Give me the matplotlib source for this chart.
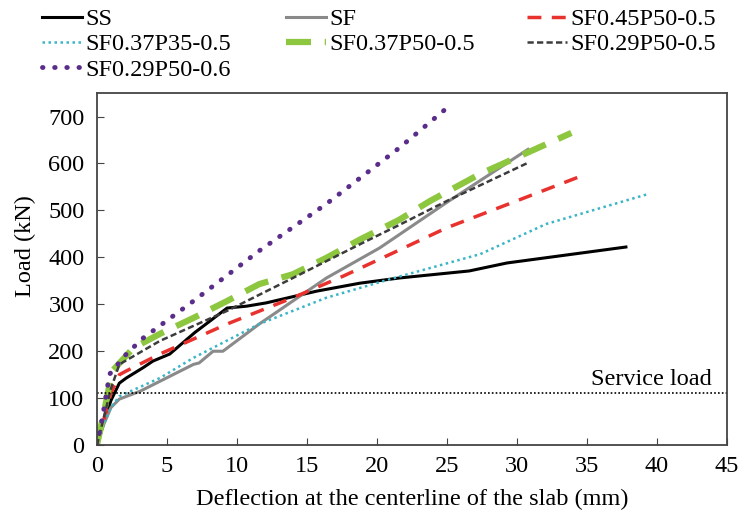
import numpy as np
import matplotlib
matplotlib.use('Agg')
import matplotlib.pyplot as plt

plt.rcParams['font.family'] = ['Liberation Serif', 'DejaVu Serif']

# load-deflection curves (mm, kN)
ss_x = [0, 0.5, 1.0, 1.6, 2.1, 3.3, 4.0, 5.2, 7.0, 9.3, 10.7, 12.1, 15.7, 18.8, 21.6, 26.6, 29.3, 37.8]
ss_y = [0, 50, 95, 132, 143, 165, 179, 194, 240, 292, 296, 303, 328, 345, 356, 371, 388, 422]

sf_x = [0, 0.5, 1.0, 1.6, 3.1, 4.5, 6.9, 7.3, 8.3, 9.0, 11.6, 14.0, 16.4, 20.2, 25.0, 30.8]
sf_y = [0, 45, 80, 98, 115, 136, 172, 175, 200, 200, 258, 307, 356, 420, 517, 630]

sf45_x = [0, 0.5, 1.0, 1.6, 2.1, 4.5, 9.3, 14.0, 17.6, 20.7, 25.0, 34.5]
sf45_y = [0, 55, 110, 150, 158, 194, 258, 314, 360, 403, 463, 572]

sf37p35_x = [0, 0.5, 1.0, 1.6, 4.5, 6.9, 11.6, 16.4, 21.0, 27.4, 32.1, 39.4]
sf37p35_y = [0, 45, 80, 104, 143, 186, 258, 314, 354, 407, 471, 535]

sf37p50_x = [0, 0.5, 1.1, 2.6, 4.5, 6.9, 9.3, 11.6, 14.0, 16.4, 18.8, 21.6, 23.8, 27.4, 33.9]
sf37p50_y = [0, 70, 158, 207, 237, 271, 307, 343, 364, 399, 438, 480, 520, 578, 665]

sf29p50_x = [0, 0.5, 1.0, 1.6, 4.5, 9.3, 14.0, 18.8, 21.6, 25.0, 30.7]
sf29p50_y = [0, 60, 120, 172, 222, 286, 356, 428, 469, 520, 600]

sf29p60_x = [0, 0.4, 0.9, 2.1, 3.3, 6.9, 11.6, 16.4, 21.6, 25.0]
sf29p60_y = [0, 60, 151, 194, 228, 307, 414, 514, 633, 718]

service_load = 110

fs = 17.5
fig = plt.figure(figsize=(7.4, 5.14), dpi=100)
ax = fig.add_axes([0.131, 0.134, 0.851, 0.685])

h_ss, = ax.plot(ss_x, ss_y, color='black', lw=2.2, label='SS')
h_sf, = ax.plot(sf_x, sf_y, color='#8a8a8a', lw=2.2, label='SF')
h_45, = ax.plot(sf45_x, sf45_y, color='#e8322e', lw=2.5, ls=(0, (4, 3)), label='SF0.45P50-0.5')
h_35, = ax.plot(sf37p35_x, sf37p35_y, color='#3ab5c6', lw=1.8, ls=(0, (1, 1.4)), label='SF0.37P35-0.5')
h_37, = ax.plot(sf37p50_x, sf37p50_y, color='#8dc63f', lw=4.5, ls=(0, (4, 2.2)), label='SF0.37P50-0.5')
h_29, = ax.plot(sf29p50_x, sf29p50_y, color='#3c3c3c', lw=1.8, ls=(0, (2.5, 1.3)), label='SF0.29P50-0.5')
h_60, = ax.plot(sf29p60_x, sf29p60_y, color='#5a2d8a', lw=3.5, ls=(0, (0.1, 2.4)),
                dash_capstyle='round', label='SF0.29P50-0.6')

ax.axhline(service_load, color='black', lw=1.2, ls=(0, (1, 1.3)))
ax.text(43.9, service_load + 7, 'Service load', ha='right', va='bottom', fontsize=fs)

ax.set_xlim(0, 45)
ax.set_ylim(0, 750)
ax.set_xticks(np.arange(0, 46, 5))
ax.set_yticks(np.arange(0, 701, 100))
ax.tick_params(direction='in', labelsize=fs, length=5, color='#444444')
ax.tick_params(axis='y', pad=9)
ax.tick_params(axis='x', pad=7.5)
for s in ax.spines.values():
    s.set_color('#444444')
    s.set_linewidth(1.3)
ax.set_xlabel('Deflection at the centerline of the slab (mm)', fontsize=fs, labelpad=9)
ax.set_ylabel('Load (kN)', fontsize=fs)
ax.yaxis.set_label_coords(-0.097, 0.565)

leg_kw = dict(frameon=False, fontsize=fs, handlelength=1.65, handletextpad=0.15,
              labelspacing=0.14, borderaxespad=0, borderpad=0, loc='upper left')
top = 1 - 8 / 514
fig.legend(handles=[h_ss, h_35, h_60], bbox_to_anchor=(42 / 740, top), **leg_kw)
fig.legend(handles=[h_sf, h_37], bbox_to_anchor=(286 / 740, top), **leg_kw)
fig.legend(handles=[h_45, h_29], bbox_to_anchor=(527 / 740, top), **leg_kw)

fig.savefig('out.png', dpi=100)
